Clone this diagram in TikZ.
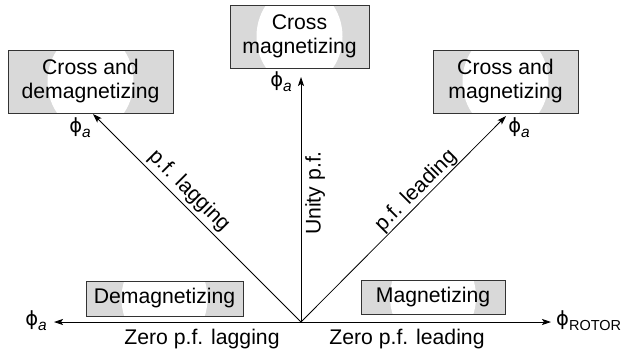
\documentclass[tikz,border=0pt]{standalone}
\usepackage{fontspec}
\setmainfont{Liberation Sans}
\newfontfamily\phifont{DejaVu Sans}
\usetikzlibrary{arrows.meta}
\newcommand{\phisym}{{\phifont\fontsize{19.5}{19.5}\selectfont ϕ}}
\newcommand{\phia}{\phisym\raisebox{-0.45ex}{\fontsize{15.5}{15.5}\selectfont\itshape a}}
\begin{document}
\begin{tikzpicture}[x=1pt,y=-1pt,
  font=\fontsize{21.2}{24}\selectfont,
  box/.style={draw=black!80, line width=0.8pt, fill=black!15, inner sep=0pt, align=center,
    path picture={\fill[white] (path picture bounding box.center) ellipse (43pt and 50pt);}},
  vec/.style={line width=0.8pt, -{Stealth[length=9pt,width=6pt,inset=2pt]}},
  lbl/.style={inner sep=2pt}]
\path[use as bounding box] (0,0) rectangle (624,354);

% boxes
\node[box, minimum width=165pt, minimum height=63pt] (bcd) at (90.5,81.5) {Cross and\\demagnetizing};
\node[box, minimum width=139pt, minimum height=63pt] (bcm) at (299.5,36.5) {Cross\\magnetizing};
\node[box, minimum width=145pt, minimum height=63pt] (bcmag) at (505.5,81.5) {Cross and\\magnetizing};
\node[box, minimum width=157pt, minimum height=35pt] (bdm) at (164.5,298.5) {Demagnetizing};
\node[box, minimum width=144pt, minimum height=34pt] (bmg) at (433,297) {Magnetizing};

% vector end points
\coordinate (O) at (301,322);
\coordinate (L) at (54,322);
\coordinate (R) at (551,322);
\coordinate (U) at (301,77);
\coordinate (UL) at (93,114);
\coordinate (UR) at (506,116);

\draw[vec] (O) -- (L);
\draw[vec] (O) -- (R);
\draw[vec] (O) -- (U);
\draw[vec] (O) -- (UL);
\draw[vec] (O) -- (UR);

% line labels
\node[lbl] (zlag) at (202,339) {Zero p.f. lagging};
\node[lbl] (zlead) at (407,339) {Zero p.f. leading};
\node[lbl, rotate=90, anchor=north] (unity) at (303,193) {Unity p.f.};
\node[lbl, rotate=-45] (pflag) at (189,191) {p.f. lagging};
\node[lbl, rotate=45] (pflead) at (416,191) {p.f. leading};

% phi labels
\node[lbl] (p1) at (80,128) {\phia};
\node[lbl] (p2) at (281,82) {\phia};
\node[lbl] (p3) at (519,128) {\phia};
\node[lbl] (p4) at (36,321) {\phia};
\node[lbl, anchor=west, inner sep=0pt] (p5) at (556,321) {\phisym\raisebox{-0.45ex}{\fontsize{14.5}{14.5}\selectfont ROTOR}};
\end{tikzpicture}
\end{document}
